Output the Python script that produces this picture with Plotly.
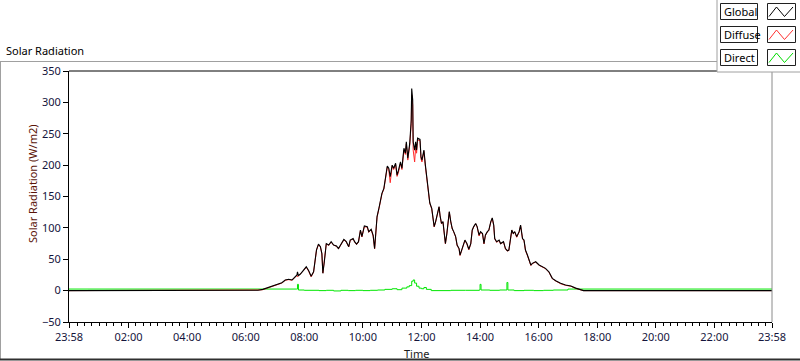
import plotly.graph_objects as go

# ---------------- data ----------------
DAY = "2024-01-02"
START = "2024-01-01 23:58"
END = "2024-01-02 23:58"

G_TIMES = ["05:00", "05:10", "05:25", "05:40", "05:50", "06:10", "06:25", "06:35", "06:46", "06:57",
           "07:04", "07:14", "07:21", "07:28", "07:35", "07:40", "07:45", "07:46", "07:48", "07:52",
           "07:59", "08:04", "08:09", "08:14", "08:19", "08:25", "08:29", "08:33", "08:36", "08:38",
           "08:41", "08:45", "08:50", "08:55", "09:00", "09:06", "09:10", "09:15", "09:21", "09:26",
           "09:31", "09:34", "09:40", "09:43", "09:47", "09:51", "09:55", "09:58", "10:03", "10:09",
           "10:12", "10:17", "10:21", "10:24", "10:26", "10:29", "10:33", "10:35", "10:39", "10:43",
           "10:46", "10:50", "10:53", "10:56", "11:00", "11:03", "11:07", "11:10", "11:13", "11:17",
           "11:20", "11:24", "11:27", "11:29", "11:32", "11:34", "11:36", "11:39", "11:40", "11:42",
           "11:43", "11:46", "11:48", "11:50", "11:52", "11:57", "11:59", "12:01", "12:05", "12:08",
           "12:12", "12:15", "12:17", "12:21", "12:23", "12:26", "12:29", "12:32", "12:36", "12:38",
           "12:41", "12:44", "12:47", "12:49", "12:52", "12:55", "12:57", "13:00", "13:03", "13:06",
           "13:10", "13:13", "13:17", "13:19", "13:22", "13:25", "13:29", "13:33", "13:37", "13:41",
           "13:44", "13:47", "13:51", "13:54", "13:58", "14:01", "14:05", "14:08", "14:11", "14:15",
           "14:18", "14:22", "14:25", "14:28", "14:30", "14:34", "14:39", "14:42", "14:48", "14:52",
           "14:56", "14:59", "15:03", "15:05", "15:08", "15:11", "15:15", "15:20", "15:23", "15:27",
           "15:30", "15:33", "15:37", "15:40", "15:44", "15:47", "15:54", "16:01", "16:08", "16:14",
           "16:21", "16:28", "16:35", "16:45", "16:55", "17:06", "17:16", "17:26", "17:32"]

GLOBAL = [0, 0, 0.5, 0, 0, 0, 0.5, 2, 5, 9,
          10.5, 12.6, 17, 18, 17, 20.6, 25, 30, 24, 26.5,
          33, 38, 31.7, 23, 30, 65, 74, 70, 59, 27.6,
          46, 75, 72.7, 78, 72.7, 71, 67, 74, 81.7, 78,
          70, 80.6, 83, 78, 74, 78, 96.6, 86, 103, 102,
          94, 97.7, 88, 67, 90, 118, 132, 139, 155, 163,
          181.5, 198.6, 195, 181.5, 200, 195, 203, 184, 192, 205,
          195, 227, 219, 237, 211, 224, 235, 272, 322, 304,
          237, 224, 237, 224, 243, 241, 213, 208, 224, 200,
          168, 147, 140, 131, 118, 102, 110, 120, 134, 120,
          107, 110, 88.6, 75, 91, 110, 126, 110, 99, 94,
          86, 72.7, 67, 56.7, 64.7, 72.7, 80.6, 75, 66, 75,
          96.6, 102, 107, 102, 88.6, 94, 91, 75, 88.6, 94,
          96.6, 110, 116, 104.5, 83, 78, 80.6, 75, 78, 67,
          63.6, 64.7, 86, 96.6, 91, 94, 86, 94, 104.5, 83,
          80.6, 64.7, 56.7, 48.8, 40.8, 43.5, 46, 40.8, 38, 35.5,
          30, 19.6, 15.8, 11.6, 9, 7.3, 4, 1.5, 0]

DIFFUSE = [0, 0.8, 0.8, 0.8, 0, 0.8, 1, 1.5, 4.5, 8.5,
           10, 12, 16.5, 17.5, 16.5, 20, 24.5, 22, 23.5, 26,
           32.5, 37.5, 31, 22, 29.5, 64.5, 73.5, 69.5, 58.5, 28,
           45.5, 74.5, 72, 77.5, 72.5, 70.5, 66.5, 73.5, 81, 77.5,
           69.5, 80, 82.5, 77.5, 73.5, 77.5, 96, 85.5, 102, 101,
           93, 97, 87, 66.5, 89, 117, 131, 138, 154, 162,
           180, 197, 193, 172, 199, 193, 201, 182, 189, 203,
           193, 224, 217, 234, 208, 221, 232, 266, 312, 296,
           224, 205, 228, 219, 240, 239, 210, 205, 222, 198,
           167, 146, 139, 130.5, 117.5, 101.5, 109.5, 119, 133, 119.5,
           106.5, 109.5, 88, 74.5, 90.5, 109.5, 125, 109.5, 98.5, 93.5,
           85.5, 72, 66.5, 56, 64, 72, 80, 74.5, 65, 74.5,
           96, 101.5, 106.5, 101.5, 87, 93, 90.5, 74.5, 88, 93.5,
           96, 109, 115, 103.5, 82.5, 77, 80, 74.5, 77.5, 66.5,
           63, 64, 85.5, 96, 90.5, 93.5, 85, 93, 103.5, 82,
           80, 64, 56, 48, 40, 43, 45.5, 40.3, 37.5, 35,
           29.5, 19, 15.3, 11, 8.5, 7, 3.5, 1, 0]

DIR_TIMES = ["07:44", "07:46", "07:48", "08:00", "08:30", "08:45", "09:00", "09:15", "09:30", "09:45",
             "10:00", "10:15", "10:30", "10:45", "11:00", "11:10", "11:20", "11:30", "11:35", "11:40",
             "11:43", "11:46", "11:50", "11:55", "12:00", "12:05", "12:10", "12:20", "12:40", "13:00",
             "13:30", "13:58", "14:00", "14:02", "14:20", "14:40", "14:53", "14:55", "14:57", "15:10",
             "15:30", "15:50", "16:10", "16:30", "17:00"]
DIRECT = [2.5, 10, 1, 0.5, 0, 0.5, -0.5, 0.5, 0, 0.5,
          0, 0.5, 1, 2, 3, 1.5, 4, 6, 8, 15,
          17, 12, 7, 4, 3, 5, 2, 0, 0, 0.5,
          0.5, 1, 10, 1, 0.5, 1, 1, 13, 1, 0,
          0.5, 0, 0.5, 1, 2.5]
NIGHT_DIRECT = 2.5

Y_TICKS = [-50, 0, 50, 100, 150, 200, 250, 300, 350]
X_TICK_TIMES = ["02:00", "04:00", "06:00", "08:00", "10:00", "12:00",
                "14:00", "16:00", "18:00", "20:00", "22:00"]

# ---------------- build series ----------------
def stamp(t):
    return f"{DAY} {t}"

g_x = [START] + [stamp(t) for t in G_TIMES] + [END]
g_y = [0] + GLOBAL + [0]
d_y = [0] + DIFFUSE + [0]
dir_x = [START] + [stamp(t) for t in DIR_TIMES] + [END]
dir_y = [NIGHT_DIRECT] + DIRECT + [NIGHT_DIRECT]

FONT = "Noto Sans"
TICK_COLOR = "#14143c"

fig = go.Figure()
fig.add_trace(go.Scatter(x=dir_x, y=dir_y, mode="lines", name="Direct",
                         line=dict(color="#00e600", width=1, shape="hv")))
fig.add_trace(go.Scatter(x=g_x, y=d_y, mode="lines", name="Diffuse",
                         line=dict(color="#ff2a2a", width=1)))
fig.add_trace(go.Scatter(x=g_x, y=g_y, mode="lines", name="Global",
                         line=dict(color="#000000", width=1.1)))

L, R, T, B = 69, 772, 71, 322
W, H = 800, 361


def px(x):
    return (x - L) / (R - L)


def py(y):
    return (B - y) / (B - T)


shapes = []
# outer panel frame
shapes.append(dict(type="line", xref="paper", yref="paper", x0=px(0.5), x1=px(0.5), y0=py(61.5), y1=py(360),
                   line=dict(color="#a0a0a0", width=1)))
shapes.append(dict(type="line", xref="paper", yref="paper", x0=px(0), x1=px(718), y0=py(61.5), y1=py(61.5),
                   line=dict(color="#a0a0a0", width=1)))
shapes.append(dict(type="line", xref="paper", yref="paper", x0=px(0), x1=px(800), y0=py(359.5), y1=py(359.5),
                   line=dict(color="#303030", width=2)))
# plot frame top and right
shapes.append(dict(type="line", xref="paper", yref="paper", x0=0, x1=1, y0=1, y1=1,
                   line=dict(color="#000000", width=1)))
shapes.append(dict(type="line", xref="paper", yref="paper", x0=1, x1=1, y0=0, y1=1,
                   line=dict(color="#8a8a8a", width=1)))
# legend panel
shapes.append(dict(type="rect", xref="paper", yref="paper", x0=px(717), x1=px(801), y0=py(72), y1=py(-1),
                   line=dict(color="#a0a0a0", width=1), fillcolor="#ffffff", layer="above"))

annotations = []
LEG = [("Global", "#000000", 3.5), ("Diffuse", "#ff3030", 26.5), ("Direct", "#00dd00", 49.5)]
for name, col, top in LEG:
    bot = top + 16
    shapes.append(dict(type="rect", xref="paper", yref="paper", x0=px(720.5), x1=px(757.5), y0=py(bot), y1=py(top),
                       line=dict(color="#202020", width=1), fillcolor="#ffffff", layer="above"))
    shapes.append(dict(type="rect", xref="paper", yref="paper", x0=px(767.5), x1=px(795.5), y0=py(bot), y1=py(top),
                       line=dict(color="#202020", width=1), fillcolor="#ffffff", layer="above"))
    xs = [769, 776.5, 784.5, 793]
    ys = [top + 13, top + 3.5, top + 13, top + 3.5]
    path = "M " + " L ".join(f"{px(a)},{py(b)}" for a, b in zip(xs, ys))
    shapes.append(dict(type="path", xref="paper", yref="paper", path=path,
                       line=dict(color=col, width=1), layer="above"))
    annotations.append(dict(text=name, xref="paper", yref="paper", x=px(722), y=py(top + 8),
                            xanchor="left", yanchor="middle", showarrow=False,
                            font=dict(family=FONT, size=11, color="#000000")))

annotations.append(dict(text="Solar Radiation", xref="paper", yref="paper", x=px(4), y=py(50.5),
                        xanchor="left", yanchor="middle", showarrow=False,
                        font=dict(family=FONT, size=11, color="#000000")))
annotations.append(dict(text="Solar Radiation (W/m2)", xref="paper", yref="paper", x=px(32), y=py(184),
                        xanchor="center", yanchor="middle", textangle=-90, showarrow=False,
                        font=dict(family=FONT, size=11, color="#5a1408")))
annotations.append(dict(text="Time", xref="paper", yref="paper", x=px(416), y=py(353),
                        xanchor="center", yanchor="middle", showarrow=False,
                        font=dict(family=FONT, size=11, color="#1a1a1a")))

tickvals = [START] + [stamp(t) for t in X_TICK_TIMES] + [END]
ticktext = ["23:58"] + X_TICK_TIMES + ["23:58"]

fig.update_layout(
    width=W, height=H,
    margin=dict(l=L, r=W - R, t=T, b=H - B),
    paper_bgcolor="#ffffff", plot_bgcolor="#ffffff",
    showlegend=False,
    shapes=shapes, annotations=annotations,
    xaxis=dict(type="date", range=[START, END], tickmode="array", tickvals=tickvals, ticktext=ticktext,
               showgrid=False, zeroline=False, showline=True, linecolor="#000000", linewidth=1,
               ticks="outside", ticklen=5, tickcolor="#000000", tickwidth=1,
               tickfont=dict(family=FONT, size=11, color=TICK_COLOR),
               minor=dict(ticks="outside", ticklen=3, tickcolor="#000000", tickwidth=1,
                          tickmode="linear", tick0=stamp("00:00"), dtick=15 * 60 * 1000, showgrid=False)),
    yaxis=dict(range=[-50, 350], tickvals=Y_TICKS, showgrid=False, zeroline=False,
               showline=True, linecolor="#000000", linewidth=1,
               ticks="outside", ticklen=5, tickcolor="#000000", tickwidth=1,
               tickfont=dict(family=FONT, size=11, color=TICK_COLOR)),
)

fig.write_html("out.html", config={"displayModeBar": False},
               post_script="document.body.style.margin='0';document.body.style.padding='0';")
